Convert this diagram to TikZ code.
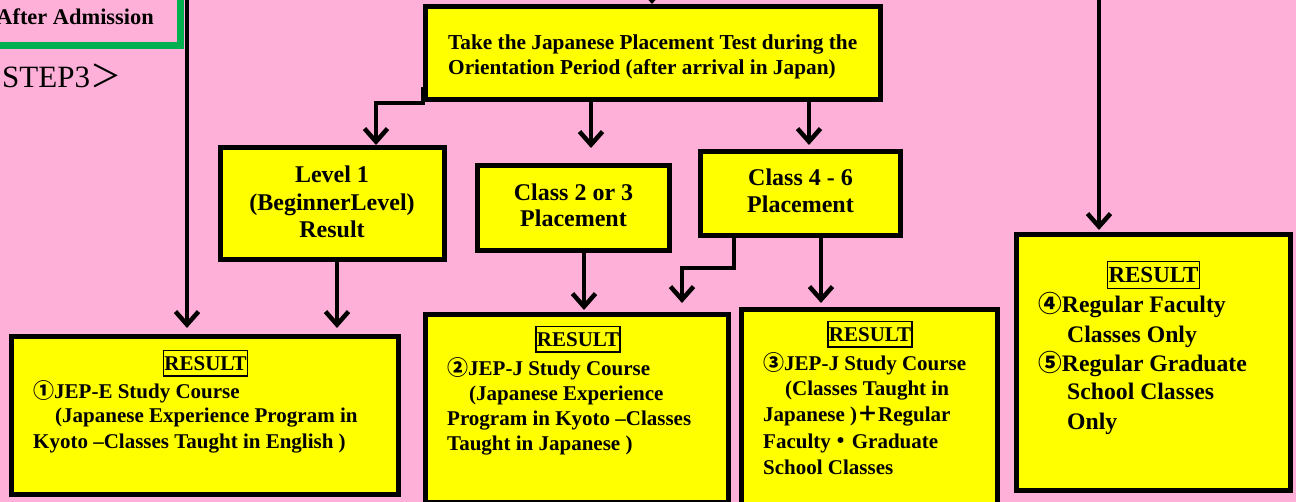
\documentclass[tikz,border=0pt]{standalone}
\usepackage{fontspec}
\setmainfont{Liberation Serif}
\newfontfamily\cjk{Noto Sans CJK JP}
\usetikzlibrary{arrows.meta}
\definecolor{bgpink}{RGB}{255,176,216}
\definecolor{boxyellow}{RGB}{255,255,0}
\definecolor{frgreen}{RGB}{0,176,80}
\begin{document}
\begin{tikzpicture}[x=1pt,y=-1pt,
  bx/.style={draw=black, line width=5pt, fill=boxyellow, inner sep=0pt},
  ctext/.style={inner sep=0pt, align=center, anchor=base, font=\bfseries\fontsize{24}{27}\selectfont},
  body/.style={inner sep=0pt, align=left, anchor=base west, font=\bfseries\fontsize{21}{25}\selectfont},
  reslabel/.style={draw=black, line width=1.5pt, inner xsep=1pt, inner ysep=0pt, text height=20.5pt, text depth=5pt, anchor=base, font=\bfseries\fontsize{21}{25}\selectfont},
  arr/.style={draw=black, line width=4.5pt, -{Straight Barb[length=13pt,width=23pt]}},
]
\fill[bgpink] (0,0) rectangle (1296,502);
\useasboundingbox (0,0) rectangle (1296,502);
\clip (0,0) rectangle (1296,502);

% header
\draw[frgreen, line width=7pt] (-40,-40) rectangle (180,45.5);
\node[inner sep=0pt, anchor=base east, font=\bfseries\fontsize{22.4}{26}\selectfont] (admit) at (154,25) {After Admission};
\node[inner sep=0pt, anchor=base west, font=\fontsize{31}{35}\selectfont] (step) at (2,88) {STEP3{\cjk ＞}};

% boxes (multi-line text nodes are anchored at the baseline of their last line)
\node[bx, minimum width=455pt, minimum height=93pt] (top) at (653,53) {};
\node[body, font=\bfseries\fontsize{21.3}{25}\selectfont] (toptext) at (448,75) {Take the Japanese Placement Test during the\\Orientation Period (after arrival in Japan)};

\node[bx, minimum width=224pt, minimum height=112pt] (lv1) at (332.5,203.5) {};
\node[ctext, font=\bfseries\fontsize{24}{27.5}\selectfont] (lv1text) at (332,238) {Level 1\\(BeginnerLevel)\\Result};

\node[bx, minimum width=192pt, minimum height=85pt] (c23) at (573.5,208) {};
\node[ctext, font=\bfseries\fontsize{24}{26}\selectfont] (c23text) at (573.5,227) {Class 2 or 3\\Placement};

\node[bx, minimum width=200pt, minimum height=84pt] (c46) at (800.5,193.5) {};
\node[ctext, font=\bfseries\fontsize{24}{27}\selectfont] (c46text) at (800.5,213) {Class 4 - 6\\Placement};

% result boxes
\node[bx, minimum width=387pt, minimum height=158pt] (r1) at (205,415.5) {};
\node[reslabel] (r1lab) at (205.5,371) {RESULT};
\node[body] (r1text) at (33,448) {{\cjk ①}JEP-E Study Course\\\hspace*{22pt}(Japanese Experience Program in\\Kyoto --Classes Taught in English )};

\node[bx, minimum width=303pt, minimum height=188pt] (r2) at (577,408.5) {};
\node[reslabel] (r2lab) at (578,347) {RESULT};
\node[body] (r2text) at (447,450) {{\cjk ②}JEP-J Study Course\\\hspace*{22pt}(Japanese Experience\\Program in Kyoto --Classes\\Taught in Japanese )};

\node[bx, minimum width=256pt, minimum height=198pt] (r3) at (869.5,408.5) {};
\node[reslabel] (r3lab) at (870,342) {RESULT};
\node[body, font=\bfseries\fontsize{21}{26}\selectfont] (r3text) at (763,474) {{\cjk ③}JEP-J Study Course\\\hspace*{22pt}(Classes Taught in\\Japanese ){\cjk ＋}Regular\\Faculty{\cjk ・}Graduate\\School Classes};

\node[bx, minimum width=274pt, minimum height=256pt] (r4) at (1153.5,362.5) {};
\node[reslabel, text height=21.5pt, text depth=5.5pt, font=\bfseries\fontsize{23}{27}\selectfont] (r4lab) at (1153.5,283) {RESULT};
\node[body, font=\bfseries\fontsize{23.7}{29}\selectfont] (r4text) at (1038,429) {{\cjk ④}Regular Faculty\\\hspace*{29pt}Classes Only\\{\cjk ⑤}Regular Graduate\\\hspace*{29pt}School Classes\\\hspace*{29pt}Only};

% connector helper coordinates
\coordinate (intop) at (652,-30);
\coordinate (inleft) at (187,-30);
\coordinate (inright) at (1099,-30);
\coordinate (a2) at (591,0);
\coordinate (a3) at (809,0);
\coordinate (b1) at (337,0);
\coordinate (b2) at (584,0);
\coordinate (b3) at (734,0);
\coordinate (b4) at (821,0);

% connectors
\draw[arr] (intop) -- (intop |- top.north);
\draw[arr, shorten >=6pt] (inleft) -- (inleft |- r1.north);
\draw[arr, shorten >=2pt] (inright) -- (inright |- r4.north);
\draw[arr] ([yshift=15pt]top.south west) -- ++(0,16) -| ([xshift=43.5pt]lv1.north);
\draw[arr, shorten >=15pt] (a2 |- top.south) -- (a2 |- c23.north);
\draw[arr, shorten >=4pt] (a3 |- top.south) -- (a3 |- c46.north);
\draw[arr, shorten >=6pt] (b1 |- lv1.south) -- (b1 |- r1.north);
\draw[arr, shorten >=2pt] (b2 |- c23.south) -- (b2 |- r2.north);
\draw[arr, shorten >=9pt] (b3 |- c46.south) -- ++(0,30) -| ([xshift=105pt]r2.north);
\draw[arr, shorten >=4pt] (b4 |- c46.south) -- (b4 |- r3.north);
\end{tikzpicture}
\end{document}
